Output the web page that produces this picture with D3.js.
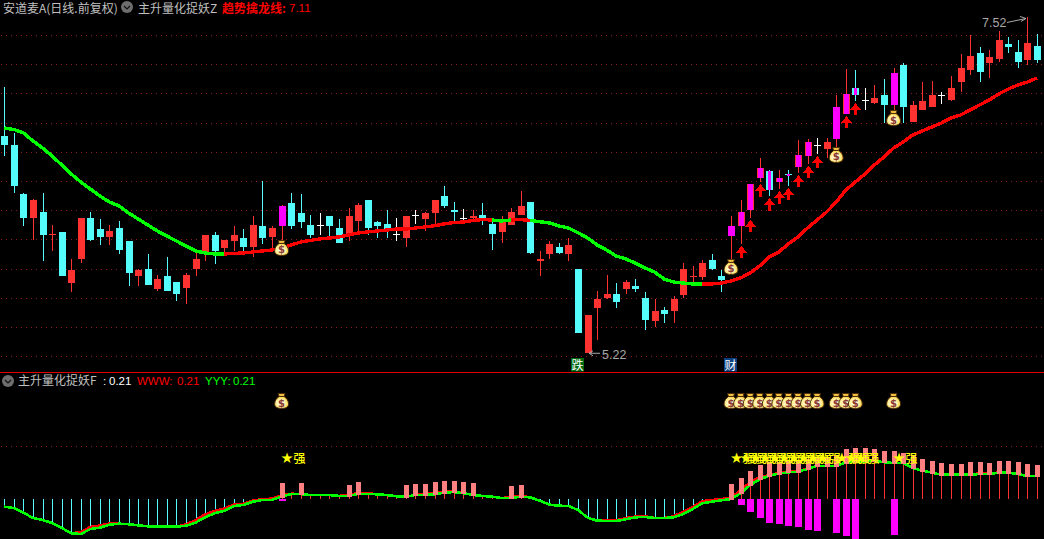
<!DOCTYPE html>
<html><head><meta charset="utf-8">
<script src="https://cdnjs.cloudflare.com/ajax/libs/d3/7.8.5/d3.min.js"></script>
<style>html,body{margin:0;padding:0;background:#000;overflow:hidden}svg{display:block}text{font-family:"Noto Sans CJK SC","Noto Sans",sans-serif}</style>
</head><body><div id="chart"></div>
<script>
const high=[7.044,6.729,6.318,6.277,6.318,6.099,6.051,5.866,6.147,6.188,6.14,6.099,6.126,5.989,5.797,5.9,5.756,5.88,5.708,5.77,5.927,6.03,6.051,5.996,6.092,6.071,6.16,6.4,6.092,6.236,6.318,6.311,6.167,6.181,6.16,6.14,6.215,6.249,6.27,6.126,6.201,6.147,6.16,6.201,6.188,6.27,6.366,6.256,6.208,6.201,6.249,6.133,6.16,6.215,6.332,6.256,5.921,5.989,5.975,6.01,5.797,5.482,5.647,5.756,5.701,5.722,5.729,5.64,5.592,5.537,5.612,5.838,5.818,5.859,5.9,5.79,6.16,6.27,6.38,6.558,6.475,6.475,6.475,6.681,6.688,6.695,6.695,6.989,7.167,7.16,7.037,7.058,7.099,7.174,7.208,6.948,7.078,7.085,7.01,7.119,7.27,7.4,7.318,7.297,7.427,7.386,7.366,7.52,7.407];
const open=[6.708,6.647,6.311,6.147,6.188,6.034,6.051,5.701,5.866,6.147,6.071,6.017,6.078,5.989,5.749,5.797,5.66,5.749,5.708,5.667,5.797,5.914,6.03,5.941,5.989,6.01,5.948,6.092,6.017,6.092,6.249,6.181,6.099,6.099,6.16,6.078,6.023,6.126,6.27,6.119,6.106,6.037,6.01,6.167,6.14,6.181,6.297,6.201,6.147,6.147,6.167,6.106,6.051,6.099,6.167,6.256,5.852,5.9,5.948,5.9,5.797,5.222,5.53,5.599,5.626,5.66,5.681,5.599,5.441,5.516,5.51,5.619,5.743,5.743,5.859,5.749,6.023,6.092,6.201,6.421,6.469,6.393,6.448,6.496,6.571,6.647,6.619,6.688,6.859,7.037,6.955,6.934,6.989,6.921,7.195,6.804,6.886,6.907,6.989,6.955,7.078,7.16,7.277,7.208,7.236,7.338,7.284,7.229,7.325];
const close=[6.647,6.366,6.147,6.27,6.03,6.04,5.749,5.79,6.147,5.996,6.017,6.058,5.927,5.77,5.79,5.688,5.729,5.647,5.626,5.756,5.866,6.03,5.921,5.996,6.03,5.948,6.099,6.01,6.078,6.229,6.092,6.119,6.03,6.099,6.092,5.975,6.16,6.236,6.078,6.092,6.064,6.037,6.16,6.167,6.181,6.27,6.229,6.188,6.147,6.16,6.147,6.037,6.119,6.188,6.229,5.907,5.866,5.969,5.907,5.962,5.359,5.482,5.592,5.626,5.571,5.708,5.66,5.448,5.51,5.489,5.592,5.797,5.749,5.838,5.797,5.722,6.092,6.188,6.38,6.489,6.338,6.421,6.441,6.578,6.667,6.647,6.667,6.907,6.996,6.989,6.955,6.969,6.921,7.14,6.907,6.921,6.948,6.989,6.989,7.037,7.174,7.256,7.147,7.249,7.366,7.318,7.215,7.345,7.229];
const low=[6.571,6.318,6.092,5.996,5.852,5.921,5.749,5.64,5.838,5.989,5.962,5.962,5.9,5.681,5.681,5.688,5.647,5.647,5.578,5.558,5.749,5.852,5.832,5.9,5.921,5.914,5.88,5.969,5.927,5.996,6.071,6.078,6.01,6.03,6.023,5.975,5.989,6.051,6.03,6.01,6.01,5.989,5.948,6.106,6.058,6.099,6.215,6.126,6.106,6.119,6.099,5.927,5.975,6.099,6.167,5.9,5.749,5.866,5.9,5.852,5.359,5.22,5.311,5.592,5.53,5.626,5.64,5.38,5.4,5.427,5.427,5.599,5.708,5.722,5.79,5.64,5.866,5.969,6.147,6.393,6.297,6.345,6.366,6.455,6.517,6.585,6.558,6.633,6.859,6.948,6.886,6.928,6.797,6.886,6.797,6.804,6.886,6.907,6.928,6.948,7.01,7.126,7.078,7.106,7.215,7.277,7.174,7.195,7.208];
const dragon=[6.763,6.753,6.729,6.674,6.626,6.571,6.51,6.448,6.393,6.345,6.297,6.256,6.229,6.181,6.14,6.099,6.058,6.023,5.989,5.955,5.921,5.907,5.9,5.9,5.904,5.907,5.914,5.921,5.927,5.941,5.962,5.982,5.993,6.003,6.01,6.017,6.03,6.044,6.051,6.058,6.064,6.071,6.071,6.078,6.085,6.094,6.106,6.115,6.119,6.13,6.136,6.133,6.126,6.133,6.136,6.13,6.121,6.113,6.092,6.078,6.046,6.01,5.962,5.927,5.886,5.866,5.838,5.804,5.777,5.729,5.708,5.701,5.695,5.695,5.695,5.701,5.715,5.736,5.77,5.818,5.88,5.914,5.969,6.017,6.078,6.133,6.188,6.256,6.338,6.393,6.448,6.51,6.565,6.626,6.667,6.715,6.743,6.77,6.797,6.832,6.852,6.886,6.921,6.955,6.996,7.03,7.058,7.078,7.106];
const dragonGreenRuns=[[0,23],[51,53],[55,73]];
const priceGrid=[7.4,7.2,7.0,6.8,6.6,6.4,6.2,6.0,5.8,5.6,5.4,5.2];
const yyy=[-.077,-.09,-.134,-.184,-.203,-.231,-.278,-.328,-.335,-.288,-.275,-.247,-.238,-.243,-.253,-.262,-.266,-.266,-.266,-.257,-.228,-.177,-.14,-.115,-.071,-.061,-.03,-.014,-.014,.017,.042,.042,.033,.033,.033,.024,.024,.042,.042,.04,.033,.021,.017,.033,.033,.04,.055,.061,.05,.033,.024,.017,.005,.005,.017,.011,-.021,-.058,-.068,-.071,-.108,-.181,-.209,-.212,-.212,-.196,-.177,-.175,-.184,-.184,-.177,-.146,-.099,-.045,-.03,-.017,-.005,.049,.127,.181,.215,.234,.247,.253,.278,.307,.307,.307,.338,.347,.351,.354,.342,.335,.335,.288,.263,.244,.225,.225,.225,.225,.231,.231,.244,.244,.231,.212,.212];
const www=[-.077,-.09,-.134,-.184,-.203,-.231,-.278,-.328,-.318,-.268,-.255,-.235,-.238,-.243,-.253,-.262,-.266,-.266,-.266,-.245,-.205,-.15,-.118,-.095,-.058,-.05,-.02,-.005,-.002,.03,.045,.042,.033,.033,.033,.024,.035,.05,.05,.04,.033,.021,.017,.033,.043,.05,.065,.068,.05,.033,.024,.017,.005,.012,.025,.011,-.021,-.058,-.068,-.071,-.108,-.181,-.209,-.207,-.205,-.185,-.17,-.168,-.184,-.184,-.168,-.125,-.08,-.025,-.015,-.005,.01,.075,.155,.2,.222,.24,.255,.262,.278,.307,.307,.307,.338,.347,.351,.354,.342,.335,.335,.288,.263,.244,.225,.225,.225,.225,.238,.238,.244,.244,.231,.212,.212];
const pinkIdx=[29,31,36,37,42,43,44,45,46,47,48,49,53,54,76,77,78,79,80,81,82,83,84,85,86,87,88,89,90,91,92,93,94,95,96,97,98,99,100,101,102,103,104,105,106,107,108];
const pinkTop=[.146,.146,.127,.156,.127,.137,.137,.156,.165,.165,.156,.146,.118,.127,.137,.193,.259,.316,.344,.344,.363,.363,.373,.382,.382,.41,.467,.476,.476,.467,.448,.448,.429,.41,.373,.354,.335,.325,.325,.344,.344,.335,.354,.354,.344,.325,.316];
const magentaIdx=[29,76,77,78,79,80,81,82,83,84,85,87,88,89,93];
const magentaVal=[-.024,-.008,-.061,-.127,-.184,-.231,-.241,-.259,-.269,-.297,-.307,-.325,-.354,-.382,-.344];
const signalIdx=[29,76,77,78,79,80,81,82,83,84,85,87,88,89,93];
const arrowIdx=[77,78,79,80,81,82,83,84,85,88,89];
const mainBagIdx=[29,76,87,93];
const fullOverlay=[29,76,87,93];
const thinOverlay=[77,78,79,80,81,82,83,84,88,89];
const lowPanelGrid=[0.5];

const W=1044,H=539;
const C={up:"#ff3232",down:"#54fcfc",flat:"#ffffff",mag:"#ff00ff",pink:"#ff8080",grid:"#8a1c1c",grey:"#c0c0c0"};
const svg=d3.select("#chart").append("svg").attr("width",W).attr("height",H).style("background","#000");
const x=d3.scaleLinear().domain([0,108]).range([4.3,1037]);
const px=i=>Math.round(x(i));
const y=d3.scaleLinear().domain([7.4,5.2]).range([35,356.2]);
const yi=d3.scaleLinear().domain([0,0.5]).range([498.5,445.5]);
const defs=svg.append("defs");
const g0=defs.append("radialGradient").attr("id","bagFill").attr("cx","45%").attr("cy","55%").attr("r","60%");
g0.append("stop").attr("offset","0%").attr("stop-color","#ffffff");
g0.append("stop").attr("offset","55%").attr("stop-color","#fff0a0");
g0.append("stop").attr("offset","100%").attr("stop-color","#f8c828");

// grid
const grid=svg.append("g");
grid.selectAll("line.p").data(priceGrid).join("line").attr("class","p")
  .attr("x1",1).attr("x2",W).attr("y1",d=>Math.round(y(d))+.5).attr("y2",d=>Math.round(y(d))+.5);
grid.selectAll("line.q").data(lowPanelGrid).join("line").attr("class","q")
  .attr("x1",1).attr("x2",W).attr("y1",d=>Math.round(yi(d))+.5).attr("y2",d=>Math.round(yi(d))+.5);
grid.selectAll("line").attr("stroke",C.grid).attr("stroke-dasharray","1 4").attr("shape-rendering","crispEdges");
svg.append("rect").attr("x",0).attr("y",372).attr("width",W).attr("height",1).attr("fill","#e00000");

// candles
const candles=d3.range(high.length);
const col=i=>open[i]===close[i]?C.flat:(close[i]>open[i]?C.up:C.down);
const cg=svg.append("g").attr("shape-rendering","crispEdges");
cg.selectAll("rect.w").data(candles).join("rect").attr("class","w")
  .attr("x",px).attr("width",1).attr("y",i=>y(high[i])).attr("height",i=>Math.max(1,y(low[i])-y(high[i]))).attr("fill",col);
cg.selectAll("rect.b").data(candles).join("rect").attr("class","b")
  .attr("x",i=>px(i)-3).attr("width",7)
  .attr("y",i=>y(Math.max(open[i],close[i])))
  .attr("height",i=>Math.max(1,Math.abs(y(open[i])-y(close[i]))))
  .attr("fill",col);
cg.selectAll("rect.f").data(fullOverlay).join("rect").attr("class","f")
  .attr("x",i=>px(i)-3).attr("width",7)
  .attr("y",i=>y(Math.max(open[i],close[i])))
  .attr("height",i=>Math.abs(y(open[i])-y(close[i]))).attr("fill",C.mag);
cg.selectAll("rect.t").data(thinOverlay).join("rect").attr("class","t")
  .attr("x",i=>px(i)-(close[i]>open[i]?2:1)).attr("width",i=>close[i]>open[i]?5:3)
  .attr("y",i=>y(Math.max(open[i],close[i])))
  .attr("height",i=>Math.max(2,Math.abs(y(open[i])-y(close[i])))).attr("fill",C.mag);

// dragon line
const dl=d3.line().x(i=>x(i)).y(i=>y(dragon[i]));
const lg=svg.append("g").attr("fill","none").attr("stroke-width",3.4).attr("stroke-linejoin","round").attr("shape-rendering","crispEdges");
lg.append("path").attr("d",dl(candles)).attr("stroke","#ff0000");
lg.selectAll("path.g").data(dragonGreenRuns).join("path").attr("class","g")
  .attr("d",r=>dl(d3.range(r[0],r[1]+1))).attr("stroke","#00ff00");

// arrows
const ag=svg.append("g").attr("fill","#ff0000").attr("shape-rendering","crispEdges");
ag.selectAll("path").data(arrowIdx).join("path")
  .attr("transform",i=>`translate(${px(i)+.5},${y(low[i])+2})`)
  .attr("d","M0,0L5.5,7L1.6,7L1.6,12.5L-1.6,12.5L-1.6,7L-5.5,7Z");

// money bag mark
function bag(sel){
  sel.append("path").attr("d","M-3.5,-7.5L3.5,-7.5L2.5,-4.5L-2.5,-4.5Z").attr("fill","#f0c040").attr("stroke","#4a2a08").attr("stroke-width",.9);
  sel.append("path").attr("d","M-2.5,-4.5C-5,-3 -7,0 -7,3C-7,6 -4,7.5 0,7.5C4,7.5 7,6 7,3C7,0 5,-3 2.5,-4.5Z")
    .attr("fill","url(#bagFill)").attr("stroke","#4a2a08").attr("stroke-width",1);
  sel.append("text").attr("text-anchor","middle").attr("y",5.5).attr("font-size",10).attr("font-weight",700)
    .attr("fill","#8a3a30").style("font-family","'DejaVu Sans'").text("$");
}
svg.append("g").selectAll("g").data(mainBagIdx).join("g")
  .attr("transform",i=>`translate(${x(i)},${y(low[i])+8})`).each(function(){bag(d3.select(this));});

// lower panel
const lo=svg.append("g").attr("shape-rendering","crispEdges");
lo.selectAll("rect.s").data(candles).join("rect").attr("class","s")
  .attr("x",px).attr("width",1)
  .attr("y",i=>Math.min(yi(0),yi(yyy[i]))).attr("height",i=>Math.abs(yi(yyy[i])-yi(0)))
  .attr("fill",i=>yyy[i]<0?C.down:C.up);
lo.selectAll("rect.m").data(magentaIdx).join("rect").attr("class","m")
  .attr("x",i=>px(i)-3).attr("width",7).attr("y",yi(0))
  .attr("height",(d,k)=>yi(magentaVal[k])-yi(0)).attr("fill",C.mag);
const il=d3.line().x(i=>x(i));
const ll=svg.append("g").attr("fill","none").attr("shape-rendering","crispEdges").attr("stroke-linejoin","round");
ll.append("path").attr("d",il.y(i=>yi(www[i]))(candles)).attr("stroke","#ff0000").attr("stroke-width",2.6);
ll.append("path").attr("d",il.y(i=>yi(yyy[i]))(candles)).attr("stroke","#00ff00").attr("stroke-width",2.6);
svg.append("g").attr("shape-rendering","crispEdges").selectAll("rect").data(pinkIdx).join("rect")
  .attr("x",i=>px(i)-2).attr("width",5)
  .attr("y",(i,k)=>yi(pinkTop[k])).attr("height",(i,k)=>yi(yyy[i])-yi(pinkTop[k])+1).attr("fill",C.pink);
svg.append("g").selectAll("g").data(signalIdx).join("g")
  .attr("transform",i=>`translate(${x(i)},401)`).each(function(){bag(d3.select(this));});
const sig=svg.append("g").selectAll("text").data(signalIdx).join("text")
  .attr("x",i=>x(i)).attr("y",463).attr("font-size",12).attr("font-weight",500).attr("fill","#ffff00");
sig.append("tspan").attr("font-size",14.5).style("font-family","'DejaVu Sans'").attr("dx",-1).text("★");
sig.append("tspan").attr("dx",0).text("强");

// labels
const t=(xx,yy,s,c,fs,fam,w)=>svg.append("text").attr("x",xx).attr("y",yy).attr("font-size",fs||12).attr("fill",c)
  .attr("font-weight",w||400).style("font-family",fam||null).text(s);
const LAT="'Liberation Sans'";
t(3,13,"安道麦A(日线.前复权)",C.grey);
t(138,13,"主升量化捉妖Z",C.grey);
t(222,13,"趋势擒龙线:","#ff0000",12,null,700);
t(289,12,"7.11","#ff0000",11.5,LAT);
t(18,385,"主升量化捉妖F",C.grey);
t(103,385,":","#ffffff",11.5,LAT);
t(109,385,"0.21","#ffffff",11.5,LAT);
t(137,385,"WWW:","#ff0000",11.5,LAT);
t(177,385,"0.21","#ff0000",11.5,LAT);
t(205,385,"YYY:","#00ff00",11.5,LAT);
t(233,385,"0.21","#00ff00",11.5,LAT);
function chevron(cx,cy){
  svg.append("circle").attr("cx",cx).attr("cy",cy).attr("r",6).attr("fill","#6e6e6e");
  svg.append("path").attr("d",`M${cx-3},${cy-1}L${cx},${cy+2}L${cx+3},${cy-1}`).attr("fill","none").attr("stroke","#111").attr("stroke-width",1.2);
}
chevron(127,7);chevron(8,381);

// price notes
const hiI=high.indexOf(d3.max(high)), loI=low.indexOf(d3.min(low));
t(982,y(high[hiI])+9.5,"7.52","#a8a8a8",12.5,LAT);
svg.append("path").attr("d",`M1007,${y(high[hiI])+5}L1026,${y(high[hiI])+1}M1020,${y(high[hiI])-1}L1026,${y(high[hiI])+1}L1021,${y(high[hiI])+4}`).attr("fill","none").attr("stroke","#a8a8a8");
t(602,y(low[loI])+5.5,"5.22","#a8a8a8",12.5,LAT);
svg.append("path").attr("d",`M600,${y(low[loI])}L589,${y(low[loI])}M593,${y(low[loI])-2.5}L589,${y(low[loI])}L593,${y(low[loI])+2.5}`).attr("fill","none").attr("stroke","#a8a8a8");

// boxed tags
[[571,"跌","#006a10"],[724,"财","#0c3f80"]].forEach(([bx,s,c])=>{
  svg.append("rect").attr("x",bx).attr("y",358).attr("width",13).attr("height",13.5).attr("fill",c);
  svg.append("text").attr("x",bx+.5).attr("y",369.5).attr("font-size",12).attr("fill","#fff").text(s);
});
</script></body></html>
